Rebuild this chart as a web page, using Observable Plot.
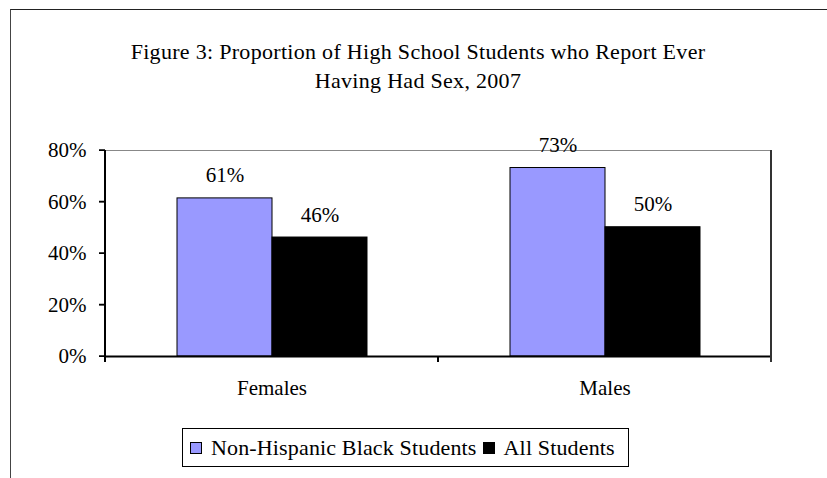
<!DOCTYPE html>
<html>
<head>
<meta charset="utf-8">
<script src="https://cdn.jsdelivr.net/npm/d3@7"></script>
<script src="https://cdn.jsdelivr.net/npm/@observablehq/plot@0.6"></script>
<style>
  html, body { margin: 0; padding: 0; background: #fff; overflow: hidden; }
  #wrap { position: relative; width: 827px; height: 478px; overflow: hidden; font-family: "Liberation Serif", "Times New Roman", serif; }
  #outer { position: absolute; left: 10px; top: 9px; width: 900px; height: 600px; border-left: 1px solid #444; border-top: 1px solid #222; }
  #chart { position: absolute; left: 0; top: 0; }
  #title { position: absolute; left: 10px; width: 816px; top: 37px; text-align: center; font-size: 22px; line-height: 29px; letter-spacing: 0.3px; color: #000; }
  #legend { position: absolute; left: 182px; top: 428px; width: 447px; height: 39px; box-sizing: border-box; border: 1px solid #000; display: flex; align-items: center; padding-left: 7px; font-size: 22px; letter-spacing: 0.15px; color: #000; white-space: nowrap; }
  #legend .sw { width: 12px; height: 12px; box-sizing: border-box; border: 1px solid #000; margin-right: 9px; display: inline-block; }
  #legend .item { display: flex; align-items: center; margin-right: 6px; }
</style>
</head>
<body>
<div id="wrap">
  <div id="outer"></div>
  <div id="chart"></div>
  <div id="title">Figure 3: Proportion of High School Students who Report Ever<br>Having Had Sex, 2007</div>
  <div id="legend"></div>
</div>
<script>
const categories = ["Females", "Males"];
const series = ["Non-Hispanic Black Students", "All Students"];
const blackStudentValues = [61.4, 73.2];
const allStudentValues = [46.2, 50.2];
const seriesColors = ["#9999FF", "#000000"];
const yTicks = [0, 20, 40, 60, 80];
const yDomain = [0, 80];

const rows = [];
categories.forEach((c, i) => {
  rows.push({category: c, series: series[0], value: blackStudentValues[i]});
  rows.push({category: c, series: series[1], value: allStudentValues[i]});
});

const plot = Plot.plot({
  width: 827,
  height: 478,
  marginLeft: 105,
  marginRight: 56,
  marginTop: 150,
  marginBottom: 122,
  style: {fontFamily: "Liberation Serif, Times New Roman, serif", fontSize: "21px", color: "#000", background: "transparent"},
  facet: {data: rows, x: "category"},
  fx: {domain: categories, padding: 0, label: null, axis: "bottom", tickSize: 0, tickPadding: 24},
  x: {domain: series, paddingInner: 0, paddingOuter: 0.735, axis: null},
  y: {domain: yDomain, ticks: yTicks, tickSize: 6, tickPadding: 13, tickFormat: d => d + "%", label: null},
  color: {domain: series, range: seriesColors},
  marks: [
    Plot.ruleY([yDomain[1]], {stroke: "#888", strokeWidth: 1}),
    Plot.barY(rows, {x: "series", y: "value", fill: "series", stroke: "#000", strokeWidth: 1}),
    Plot.ruleY([0], {stroke: "#000", strokeWidth: 2}),
    Plot.text(rows, {x: "series", y: "value", text: d => Math.round(d.value) + "%", dy: -16, lineAnchor: "bottom", fontSize: 21, fill: "#000"})
  ]
});
document.getElementById("chart").appendChild(plot);

// Frame lines and category-boundary ticks, from the plot's own scales
const svg = d3.select(plot);
const fxInfo = plot.scale("fx");
const yInfo = plot.scale("y");
const fxBand = d3.scaleBand().domain(fxInfo.domain).range(fxInfo.range).padding(0);
const yLin = d3.scaleLinear().domain(yInfo.domain).range(yInfo.range);
const left = fxBand(categories[0]);
const right = fxBand(categories[categories.length - 1]) + fxBand.bandwidth();
const yTop = yLin(yDomain[1]);
const yBot = yLin(0);
const g = svg.append("g");
g.append("line").attr("x1", left).attr("x2", left).attr("y1", yTop).attr("y2", yBot + 6).attr("stroke", "#000").attr("stroke-width", 2);
g.append("line").attr("x1", right).attr("x2", right).attr("y1", yTop).attr("y2", yBot + 6).attr("stroke", "#333").attr("stroke-width", 2);
categories.slice(1).forEach(c => {
  const bx = fxBand(c);
  g.append("line").attr("x1", bx).attr("x2", bx).attr("y1", yBot).attr("y2", yBot + 6).attr("stroke", "#000").attr("stroke-width", 2);
});
yTicks.forEach(t => {
  g.append("line").attr("x1", left - 6).attr("x2", left).attr("y1", yLin(t)).attr("y2", yLin(t)).attr("stroke", "#000").attr("stroke-width", 1.5);
});

// Legend
const legend = d3.select("#legend");
series.forEach((s, i) => {
  const it = legend.append("span").attr("class", "item");
  it.append("span").attr("class", "sw").style("background", seriesColors[i]);
  it.append("span").text(s);
});
</script>
</body>
</html>
